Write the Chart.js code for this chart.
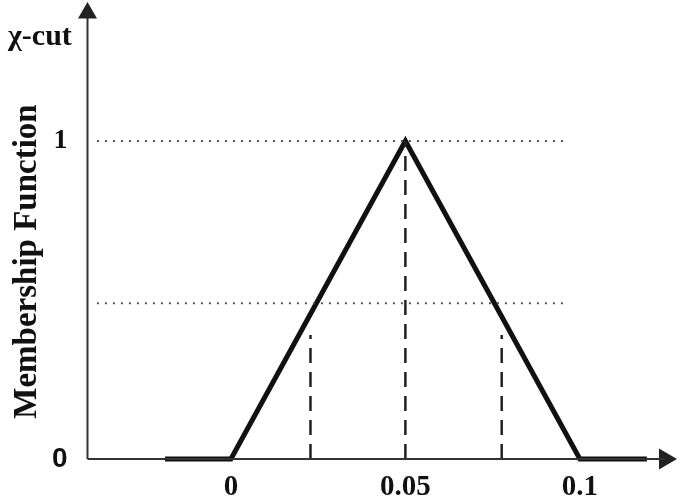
<!DOCTYPE html>
<html>
<head>
<meta charset="utf-8">
<script src="https://cdn.jsdelivr.net/npm/chart.js@4/dist/chart.umd.min.js"></script>
<style>
  html, body { margin: 0; padding: 0; background: #fff; }
  #wrap { width: 685px; height: 500px; }
</style>
</head>
<body>
<div id="wrap"><canvas id="canvas" width="685" height="500"></canvas></div>
<script>
// membership function (triangle with flat tails)
const triX = [-0.0189, 0, 0.05, 0.1, 0.1192];
const triY = [0, 0, 1, 0, 0];

// dotted horizontal levels and their extent along x
const levels = [1, 0.49];
const levelFrom = -0.0384;
const levelTo = 0.0963;

// dashed verticals: x position and height
const cutX = [0.0228, 0.05, 0.0776];
const cutTop = [0.39, 1, 0.39];

// axis ranges / arrow positions
const xMin = -0.0411, xMax = 0.1287;
const yMin = 0, yMax = 1.2421;
const xArrow = 0.1244;
const yArrow = 1.4025;

const xTicks = [0, 0.05, 0.1];
const xTickLabels = ['0', '0.05', '0.1'];
const yTicks = [0, 1];
const yTickLabels = ['0', '1'];

const serif = 'Liberation Serif, Times New Roman, serif';
const sans = 'Liberation Sans, Arial, sans-serif';

const canvas = document.getElementById('canvas');
const ctx = canvas.getContext('2d');

const lineDefaults = { showLine: true, pointRadius: 0, pointHoverRadius: 0, fill: false, tension: 0, clip: false };

const datasets = [];

// axes as lines
datasets.push({ ...lineDefaults, data: [{ x: xMin, y: 0 }, { x: xArrow, y: 0 }], borderColor: '#333', borderWidth: 2 });
datasets.push({ ...lineDefaults, data: [{ x: xMin, y: 0 }, { x: xMin, y: yArrow }], borderColor: '#333', borderWidth: 2 });

// dotted levels
levels.forEach(lv => {
  datasets.push({ ...lineDefaults, data: [{ x: levelFrom, y: lv }, { x: levelTo, y: lv }],
    borderColor: '#555', borderWidth: 2, borderDash: [2, 6] });
});

// dashed cuts
cutX.forEach((cx, i) => {
  datasets.push({ ...lineDefaults, data: [{ x: cx, y: 0 }, { x: cx, y: cutTop[i] }],
    borderColor: '#222', borderWidth: 2.5, borderDash: [15, 9] });
});

// triangle
datasets.push({ ...lineDefaults, data: triX.map((x, i) => ({ x: x, y: triY[i] })),
  borderColor: '#111', borderWidth: 5, borderJoinStyle: 'miter', borderCapStyle: 'butt' });

// arrow heads
datasets.push({ data: [{ x: xArrow, y: 0 }], showLine: false, clip: false, pointStyle: 'triangle',
  rotation: 90, pointRadius: 12, pointHoverRadius: 12, pointBackgroundColor: '#222', pointBorderWidth: 0 });
datasets.push({ data: [{ x: xMin, y: yArrow }], showLine: false, clip: false, pointStyle: 'triangle',
  rotation: 0, pointRadius: 11, pointHoverRadius: 11, pointBackgroundColor: '#222', pointBorderWidth: 0 });
const yArrowIndex = datasets.length - 1;

// the y arrow sits above the chart area, so draw its point element again without the area check
const arrowOutside = {
  id: 'arrowOutside',
  afterDatasetsDraw(chart) {
    const full = { left: 0, top: 0, right: chart.width, bottom: chart.height };
    chart.getDatasetMeta(yArrowIndex).data.forEach(pt => pt.draw(chart.ctx, full));
  }
};

const chart = new Chart(ctx, {
  type: 'scatter',
  data: { datasets: datasets },
  plugins: [arrowOutside],
  options: {
    responsive: false,
    animation: false,
    events: [],
    layout: { autoPadding: false, padding: { left: 8, right: 5, top: 0, bottom: 0 } },
    plugins: {
      legend: { display: false },
      tooltip: { enabled: false },
      title: {
        display: true,
        text: 'χ-cut',
        align: 'start',
        color: '#111',
        font: { family: serif, size: 30, weight: 'bold' },
        padding: { top: 19, bottom: 9 }
      }
    },
    scales: {
      x: {
        type: 'linear',
        min: xMin,
        max: xMax,
        grid: { display: false, drawTicks: false },
        border: { display: false },
        afterBuildTicks: (scale) => { scale.ticks = xTicks.map(v => ({ value: v })); },
        afterFit: (scale) => { scale.height = 41; },
        ticks: {
          autoSkip: false,
          maxRotation: 0,
          padding: 11,
          color: '#111',
          font: { family: serif, size: 29, weight: 'bold' },
          callback: (value, index) => xTickLabels[index]
        }
      },
      y: {
        type: 'linear',
        min: yMin,
        max: yMax,
        grid: { display: false, drawTicks: false },
        border: { display: false },
        afterBuildTicks: (scale) => { scale.ticks = yTicks.map(v => ({ value: v })); },
        afterFit: (scale) => { scale.width = 79.5; },
        title: {
          display: true,
          text: 'Membership Function',
          color: '#111',
          font: { family: serif, size: 33, weight: 'bold' },
          padding: { top: 0, bottom: 0 }
        },
        ticks: {
          autoSkip: false,
          padding: 20,
          color: '#111',
          font: (c) => c.index === 0
            ? { family: sans, size: 28, weight: 'bold' }
            : { family: serif, size: 28, weight: 'bold' },
          callback: (value, index) => yTickLabels[index]
        }
      }
    }
  }
});
</script>
</body>
</html>
